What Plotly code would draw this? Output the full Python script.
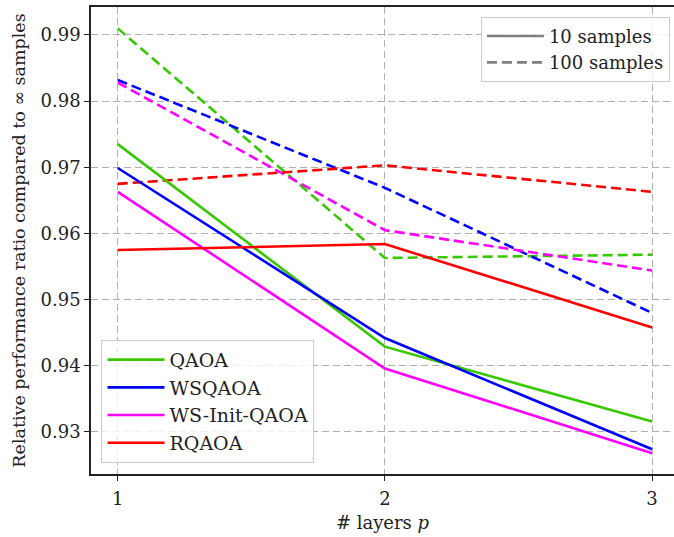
import plotly.graph_objects as go

p = [1, 2, 3]
series_names = ["QAOA", "WSQAOA", "WS-Init-QAOA", "RQAOA"]
colors = ["#38c800", "#0000ff", "#ff00ff", "#ff0000"]
qaoa_10 = [0.9735, 0.9429, 0.9316]
wsqaoa_10 = [0.9699, 0.9442, 0.9274]
wsinit_10 = [0.9663, 0.9396, 0.9268]
rqaoa_10 = [0.9575, 0.9584, 0.9458]
qaoa_100 = [0.9910, 0.9563, 0.9568]
wsqaoa_100 = [0.9832, 0.9669, 0.9480]
wsinit_100 = [0.9828, 0.9605, 0.9544]
rqaoa_100 = [0.9675, 0.9703, 0.9663]
y_ticks = [0.93, 0.94, 0.95, 0.96, 0.97, 0.98, 0.99]

vals_10 = [qaoa_10, wsqaoa_10, wsinit_10, rqaoa_10]
vals_100 = [qaoa_100, wsqaoa_100, wsinit_100, rqaoa_100]

FONT = "DejaVu Serif"
fig = go.Figure()
for name, c, v in zip(series_names, colors, vals_100):
    fig.add_trace(go.Scatter(x=p, y=v, mode="lines", showlegend=False,
                             line=dict(color=c, width=2.6, dash="10px,5px")))
for name, c, v in zip(series_names, colors, vals_10):
    fig.add_trace(go.Scatter(x=p, y=v, mode="lines", name=name, legend="legend",
                             line=dict(color=c, width=2.6)))
fig.add_trace(go.Scatter(x=[None], y=[None], mode="lines", name="10 samples",
                         legend="legend2", line=dict(color="#808080", width=2.6)))
fig.add_trace(go.Scatter(x=[None], y=[None], mode="lines", name="100 samples",
                         legend="legend2", line=dict(color="#808080", width=2.6, dash="10px,5px")))

fig.update_layout(
    width=674, height=537,
    margin=dict(l=91, r=0, t=7, b=63),
    plot_bgcolor="white", paper_bgcolor="white",
    font=dict(family=FONT, size=18, color="#222222"),
    xaxis=dict(range=[0.9, 3.082], tickvals=p, ticktext=[str(v) for v in p],
               showline=True, linecolor="#222222", linewidth=1.5, mirror=True,
               ticks="outside", ticklen=5, tickcolor="#222222", ticklabelstandoff=3,
               showgrid=True, gridcolor="#b0b0b0", griddash="7px,4px", gridwidth=1,
               zeroline=False, tickfont=dict(family=FONT, size=18),
               title=dict(text="# layers <i>p</i>", font=dict(family=FONT, size=18), standoff=8)),
    yaxis=dict(range=[0.92365, 0.99423], tickvals=y_ticks,
               ticktext=[f"{v:.2f}" for v in y_ticks],
               showline=True, linecolor="#222222", linewidth=1.5, mirror=False,
               ticks="outside", ticklen=5, tickcolor="#222222",
               showgrid=True, gridcolor="#b0b0b0", griddash="7px,4px", gridwidth=1,
               zeroline=False, tickfont=dict(family=FONT, size=18),
               title=dict(text="Relative performance ratio compared to ∞ samples",
                          font=dict(family=FONT, size=17.5), standoff=10)),
    legend=dict(x=0.018, y=0.024, xanchor="left", yanchor="bottom", itemwidth=57,
                bgcolor="rgba(255,255,255,0.8)", bordercolor="#cccccc", borderwidth=1,
                font=dict(size=19, family=FONT)),
    legend2=dict(x=0.993, y=0.979, xanchor="right", yanchor="top", itemwidth=57,
                 bgcolor="rgba(255,255,255,0.8)", bordercolor="#cccccc", borderwidth=1,
                 font=dict(size=18, family=FONT)),
)
fig.write_html("out.html")
